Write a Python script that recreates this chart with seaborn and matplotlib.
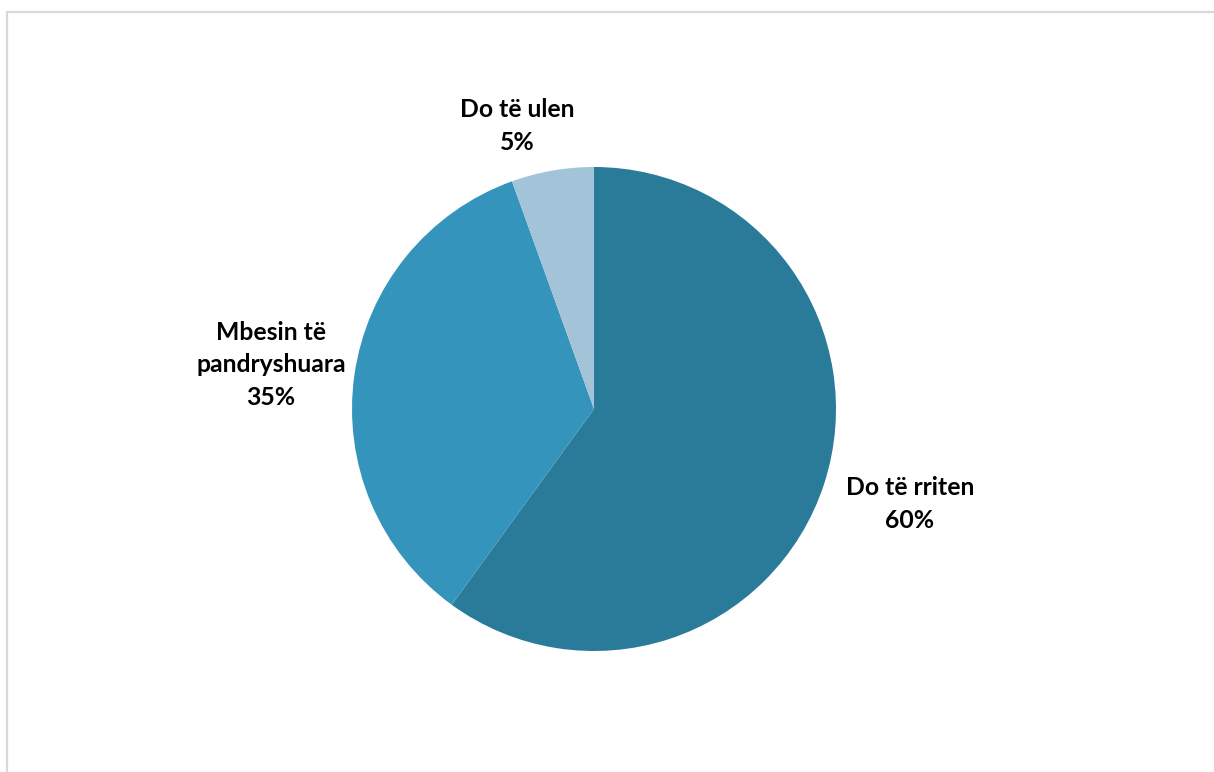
import matplotlib
matplotlib.use("Agg")
import matplotlib.pyplot as plt
import seaborn as sns
from matplotlib.lines import Line2D

categories = ["Do të rriten", "Mbesin të\npandryshuara", "Do të ulen"]
values = [60, 34.5, 5.5]
pct_labels = ["60%", "35%", "5%"]
colors = ["#2a7b99", "#3594bb", "#a3c3d8"]
# label centres in pixels (x, y from top)
label_px = [(910, 504), (271, 365), (517, 126)]

sns.set_theme(style="white")
plt.rcParams['font.family'] = ['Lato', 'DejaVu Sans']

W, H = 1214, 772
fig = plt.figure(figsize=(W / 100, H / 100), dpi=100)
fig.patch.set_facecolor("white")

cx, cy, r = 594, 409, 242
ax = fig.add_axes([(cx - r) / W, (H - cy - r) / H, 2 * r / W, 2 * r / H])
ax.pie(values, colors=colors, startangle=90, counterclock=False, radius=1,
       wedgeprops=dict(linewidth=0))
ax.set_xlim(-1, 1)
ax.set_ylim(-1, 1)
ax.set_aspect("equal")
ax.axis("off")

for cat, pct, (px, py) in zip(categories, pct_labels, label_px):
    x = (px - cx) / r
    y = (cy - py) / r
    ax.text(x, y, f"{cat}\n{pct}", ha="center", va="center", fontsize=17.8,
            fontweight="bold", color="black", linespacing=1.5, clip_on=False)

# chart-area border
fig.add_artist(Line2D([7 / W, 1.0], [(H - 12) / H, (H - 12) / H], color="#d9d9d9", lw=1.6))
fig.add_artist(Line2D([7 / W, 7 / W], [0, (H - 12) / H], color="#d9d9d9", lw=1.6))

fig.savefig("out.png", dpi=100, facecolor="white")
